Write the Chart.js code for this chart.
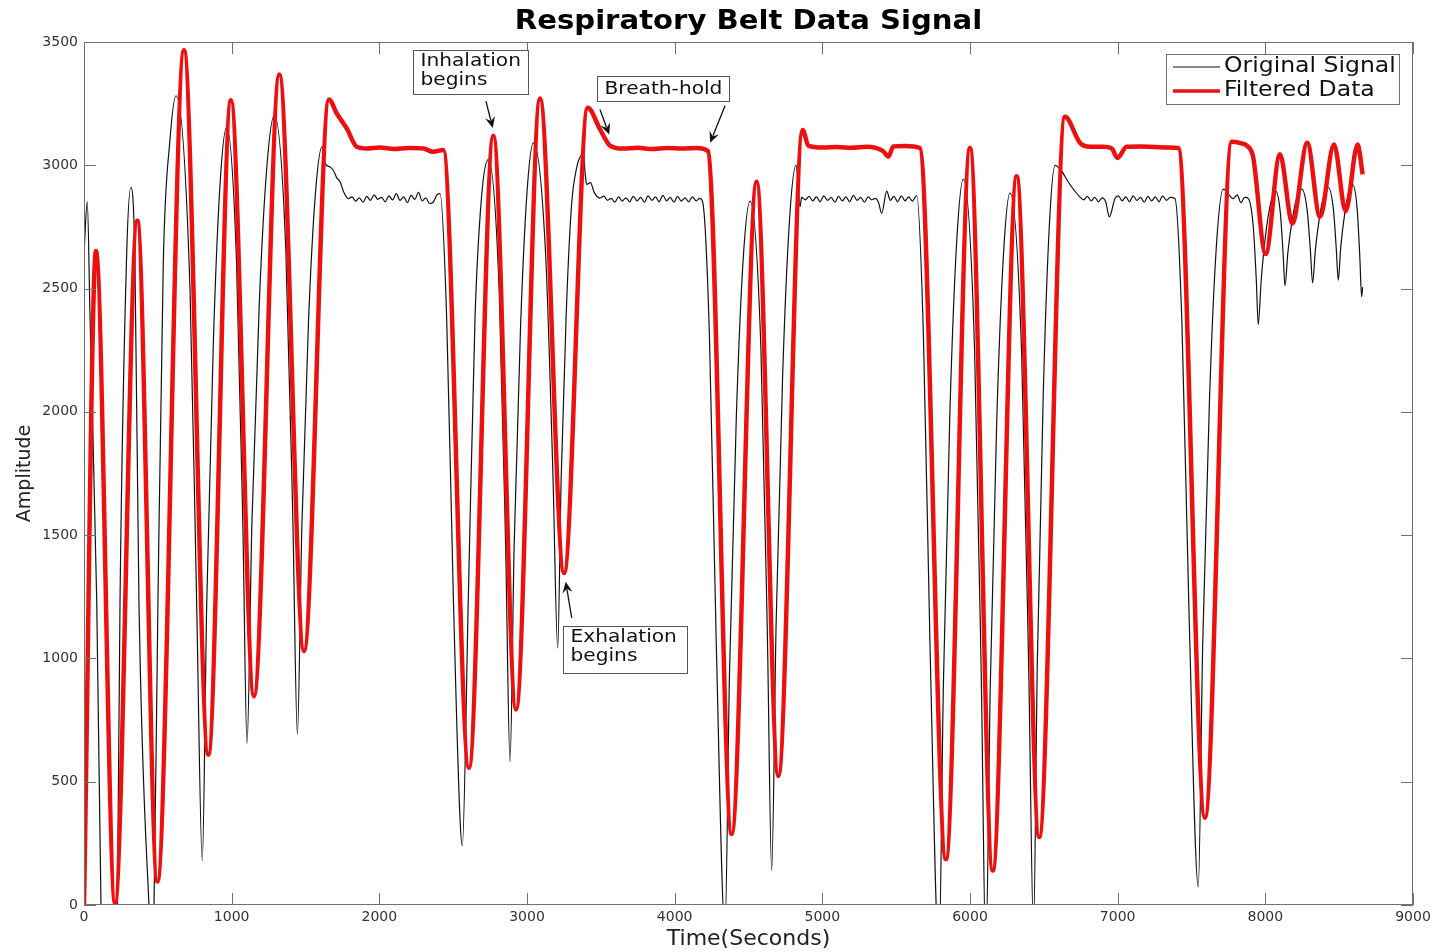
<!DOCTYPE html>
<html>
<head>
<meta charset="utf-8">
<title>Respiratory Belt Data Signal</title>
<script src="https://cdn.jsdelivr.net/npm/chart.js@4.4.1/dist/chart.umd.min.js"></script>
<style>
  html, body { margin: 0; padding: 0; background: #fff; }
  #wrap { width: 1438px; height: 952px; }
</style>
</head>
<body>
<div id="wrap"><canvas id="myChart" width="1438" height="952"></canvas></div>
<script>
// filtered belt signal (red), sampled at the turning points and along the holds
const filteredTime = [
  0, 81, 210, 361, 497, 677, 842, 995, 1151, 1323, 1490, 1659, 1711, 1779, 1847, 1914,
  2000, 2100, 2200, 2300, 2364, 2433, 2607, 2772, 2926, 3088, 3251, 3411, 3494, 3562,
  3650, 3750, 3850, 3950, 4050, 4150, 4226, 4386, 4555, 4702, 4867, 4905, 5000, 5100,
  5200, 5300, 5412, 5447, 5481, 5560, 5661, 5837, 6000, 6154, 6316, 6469, 6643, 6745,
  6813, 6900, 6960, 6998, 7061, 7150, 7250, 7350, 7411, 7591, 7772, 7830, 7885, 7917,
  8002, 8099, 8183, 8284, 8370, 8465, 8544, 8625, 8659
];
const filteredAmp = [
  0, 2652, 8, 2775, 95, 3467, 610, 3264, 847, 3368, 1030, 3267, 3211, 3150, 3075, 3068,
  3072, 3066, 3070, 3068, 3055, 3062, 556, 3120, 793, 3271, 1346, 3233, 3147, 3080,
  3068, 3071, 3066, 3070, 3068, 3070, 3057, 288, 2933, 523, 3143, 3080, 3072, 3074,
  3071, 3075, 3057, 3035, 3076, 3078, 3070, 186, 3070, 140, 2956, 276, 3197, 3091,
  3075, 3075, 3068, 3030, 3075, 3076, 3074, 3072, 3070, 354, 3095, 3090, 3075, 3035,
  2640, 3045, 2764, 3091, 2791, 3084, 2814, 3084, 2963
];

// raw belt signal (black); each row of times lines up with the same row of amplitudes
const originalTime = [
  0, 22, 41, 86, 115, 170, 226, 244, 289, 318, 345, 372, 440, 457, 474, 501, 537, 582, 623,
  718, 763, 801, 831, 876, 921, 966, 1033, 1076, 1104, 1137, 1187, 1239, 1289, 1367, 1414, 1445, 1475, 1520, 1567,
  1612, 1632, 1660, 1688, 1711, 1734, 1760, 1790,
  1815, 1840, 1865, 1890, 1915, 1940, 1965, 1990, 2015, 2040, 2065, 2090, 2115, 2140, 2165, 2190,
  2215, 2240, 2265, 2290, 2315, 2340, 2365, 2390, 2411,
  2456, 2501, 2546, 2562, 2603, 2648, 2693, 2738, 2812, 2856, 2885, 2913, 2956, 3000,
  3043, 3126, 3175, 3208, 3231, 3266, 3301, 3336, 3381, 3395, 3404, 3430, 3455, 3494,
  3520, 3545, 3570, 3595, 3620, 3645, 3670, 3695, 3720, 3745, 3770, 3795, 3820, 3845, 3870, 3895,
  3920, 3945, 3970, 3995, 4020, 4045, 4070, 4095, 4120, 4145, 4170, 4190,
  4235, 4281, 4341, 4371, 4417, 4464, 4510, 4584, 4628, 4657, 4687, 4731, 4777, 4822, 4849, 4860,
  4885, 4910, 4935, 4960, 4985, 5010, 5035, 5060, 5085, 5110, 5135, 5160, 5185, 5210, 5235, 5260,
  5285, 5310, 5335, 5360, 5380, 5402, 5436, 5460, 5485, 5510, 5535, 5560, 5585, 5610, 5639,
  5684, 5730, 5790, 5820, 5864, 5910, 5955, 6031, 6077, 6107, 6137, 6181, 6227, 6271,
  6350, 6398, 6430, 6456, 6496, 6537, 6576, 6610, 6677, 6745,
  6770, 6795, 6820, 6845, 6870, 6895, 6920, 6943, 6982, 7005, 7030, 7055, 7080, 7105, 7130, 7155,
  7180, 7205, 7230, 7255, 7280, 7305, 7330, 7355, 7388,
  7435, 7483, 7546, 7576, 7622, 7669, 7715, 7783, 7810, 7835, 7860, 7885,
  7918, 7939, 7952, 7973, 8005, 8038, 8070, 8101, 8120, 8133, 8153, 8184, 8215, 8246,
  8283, 8305, 8320, 8339, 8368, 8397, 8426, 8460, 8480, 8494, 8511, 8538, 8565, 8591, 8622, 8640, 8652, 8659
];
const originalAmp = [
  2640, 2853, 2381, 1237, 0, -1500, 0, 1237, 2640, 2911, 2607, 1237, 0, -150, 0, 1237, 2607, 3102, 3282,
  2496, 1221, 180, 1221, 2283, 2920, 3155, 2608, 1531, 655, 1547, 2439, 2999, 3203, 2651, 1571, 692, 1526, 2360, 2884,
  3075, 3008, 2995, 2980, 2950, 2933, 2890, 2865,
  2872, 2855, 2868, 2850, 2874, 2858, 2880, 2862, 2870, 2852, 2876, 2860, 2885, 2858, 2872, 2848,
  2878, 2862, 2890, 2856, 2868, 2845, 2850, 2880, 2885,
  2381, 1255, 354, 241, 1255, 2381, 2877, 3023, 2486, 1435, 580, 1459, 2338, 2890,
  3091, 2640, 1759, 1042, 1723, 2405, 2833, 2989, 3045, 2960, 2922, 2930, 2890, 2867,
  2875, 2858, 2866, 2850, 2872, 2855, 2868, 2852, 2874, 2856, 2870, 2850, 2876, 2858, 2872, 2852,
  2878, 2856, 2870, 2850, 2874, 2855, 2868, 2852, 2872, 2856, 2866, 2850,
  2319, 1080, -100, 934, 1969, 2619, 2855, 2258, 1090, 140, 1141, 2143, 2772, 3001, 2832, 2870,
  2860, 2874, 2856, 2872, 2852, 2876, 2858, 2870, 2850, 2874, 2856, 2872, 2852, 2878, 2858, 2870,
  2850, 2872, 2860, 2866, 2850, 2805, 2895, 2858, 2874, 2852, 2876, 2856, 2872, 2855, 2877,
  2323, 1031, -200, 900, 2001, 2692, 2944, 2252, 900, -200, 881, 1962, 2641, 2888,
  2231, 946, -100, 985, 2070, 2752, 3000, 2985, 2922, 2871,
  2860, 2874, 2856, 2870, 2852, 2868, 2850, 2791, 2865, 2876, 2856, 2872, 2852, 2876, 2858, 2870,
  2850, 2874, 2856, 2872, 2852, 2876, 2858, 2870, 2865,
  2362, 1190, 73, 1063, 2054, 2677, 2903, 2865, 2880, 2848, 2870, 2865,
  2753, 2533, 2354, 2543, 2733, 2852, 2895, 2811, 2646, 2512, 2649, 2786, 2872, 2903,
  2819, 2656, 2523, 2658, 2794, 2879, 2910, 2827, 2666, 2534, 2670, 2806, 2891, 2922, 2822, 2626, 2467, 2506
];

const seriesNames = ['Original Signal', 'Filtered Data'];
const chartTitle = 'Respiratory Belt Data Signal';
const xRange = [0, 9000];
const yRange = [0, 3500];

// callouts: box is [left, right, top, bottom] in data units, arrows are [fromX, fromY, toX, toY]
const notes = [
  { lines: ['Inhalation', 'begins'], box: [2228, 3007, 3467, 3289], arrows: [[2722, 3260, 2768, 3151]] },
  { lines: ['Breath-hold'], box: [3472, 4370, 3362, 3260], arrows: [[3494, 3226, 3557, 3125], [4341, 3241, 4240, 3091]] },
  { lines: ['Exhalation', 'begins'], box: [3242, 4086, 1131, 941], arrows: [[3303, 1164, 3262, 1311]] }
];

const RED = '#ec1010';
const AXIS = '#707070';
const TICK_LEN = 12;
const WIDE = 1.12;   // the figure text is set a little wide

Chart.defaults.font.family = 'DejaVu Sans';
Chart.defaults.color = '#333';

function toPoints(xs, ys) {
  return xs.map((x, i) => ({ x: x, y: ys[i] }));
}

function wideText(ctx, text, x, y, align) {
  ctx.save();
  ctx.translate(x, y);
  ctx.scale(WIDE, 1);
  ctx.textAlign = align;
  ctx.fillText(text, 0, 0);
  ctx.restore();
}

function drawArrow(ctx, x0, y0, x1, y1) {
  const a = Math.atan2(y1 - y0, x1 - x0);
  const c = Math.cos(a), s = Math.sin(a);
  const len = 11, half = 5;
  ctx.beginPath();
  ctx.moveTo(x0, y0);
  ctx.lineTo(x1 - len * 0.7 * c, y1 - len * 0.7 * s);
  ctx.stroke();
  ctx.beginPath();
  ctx.moveTo(x1, y1);
  ctx.lineTo(x1 - len * c + half * s, y1 - len * s - half * c);
  ctx.lineTo(x1 - len * 0.65 * c, y1 - len * 0.65 * s);
  ctx.lineTo(x1 - len * c - half * s, y1 - len * s + half * c);
  ctx.closePath();
  ctx.fill();
}

// box around the axes, inward ticks on all sides, title, callouts and the legend
const framePlugin = {
  id: 'frame',
  afterDatasetsDraw(chart) {
    const { ctx, chartArea: area, scales } = chart;
    const xs = scales.x, ys = scales.y;
    ctx.save();

    ctx.lineWidth = 1;
    ctx.strokeStyle = AXIS;
    ctx.beginPath();
    xs.ticks.forEach(t => {
      const px = Math.round(xs.getPixelForValue(t.value)) + 0.5;
      ctx.moveTo(px, area.bottom); ctx.lineTo(px, area.bottom - TICK_LEN);
      ctx.moveTo(px, area.top); ctx.lineTo(px, area.top + TICK_LEN);
    });
    ys.ticks.forEach(t => {
      const py = Math.round(ys.getPixelForValue(t.value)) + 0.5;
      ctx.moveTo(area.left, py); ctx.lineTo(area.left + TICK_LEN, py);
      ctx.moveTo(area.right, py); ctx.lineTo(area.right - TICK_LEN, py);
    });
    ctx.stroke();
    ctx.strokeRect(area.left + 0.5, area.top + 0.5, area.right - area.left - 1, area.bottom - area.top - 1);

    // title over the axes
    ctx.fillStyle = '#000';
    ctx.font = 'bold 26px "DejaVu Sans"';
    ctx.textBaseline = 'alphabetic';
    wideText(ctx, chartTitle, (area.left + area.right) / 2, 29, 'center');

    // callouts
    ctx.font = '18px "DejaVu Sans"';
    ctx.textBaseline = 'middle';
    notes.forEach(n => {
      const l = Math.round(xs.getPixelForValue(n.box[0])) + 0.5;
      const r = Math.round(xs.getPixelForValue(n.box[1])) + 0.5;
      const t = Math.round(ys.getPixelForValue(n.box[2])) + 0.5;
      const b = Math.round(ys.getPixelForValue(n.box[3])) + 0.5;
      ctx.fillStyle = '#fff';
      ctx.fillRect(l, t, r - l, b - t);
      ctx.strokeStyle = '#555';
      ctx.lineWidth = 1;
      ctx.strokeRect(l, t, r - l, b - t);
      ctx.fillStyle = '#111';
      if (n.lines.length === 1) {
        wideText(ctx, n.lines[0], l + 7, (t + b) / 2, 'left');
      } else {
        n.lines.forEach((line, i) => wideText(ctx, line, l + 7, t + 11 + i * 19, 'left'));
      }
      ctx.strokeStyle = '#111';
      ctx.lineWidth = 1.3;
      n.arrows.forEach(a => drawArrow(ctx,
        xs.getPixelForValue(a[0]), ys.getPixelForValue(a[1]),
        xs.getPixelForValue(a[2]), ys.getPixelForValue(a[3])));
    });

    // legend
    const w = 233, h = 50;
    const lx = area.right - 14 - w, ly = area.top + 12;
    ctx.fillStyle = '#fff';
    ctx.fillRect(lx, ly, w, h);
    ctx.strokeStyle = AXIS;
    ctx.lineWidth = 1;
    ctx.strokeRect(lx + 0.5, ly + 0.5, w, h);
    ctx.font = '21px "DejaVu Sans"';
    chart.data.datasets.forEach((ds, i) => {
      const yy = ly + 13 + i * 24;
      ctx.strokeStyle = ds.borderColor;
      ctx.lineWidth = Math.min(ds.borderWidth, 3.5);
      ctx.beginPath();
      ctx.moveTo(lx + 7, yy);
      ctx.lineTo(lx + 54, yy);
      ctx.stroke();
      ctx.fillStyle = '#111';
      wideText(ctx, ds.label, lx + 58, yy, 'left');
    });

    ctx.restore();
  }
};

new Chart(document.getElementById('myChart'), {
  type: 'line',
  data: {
    datasets: [
      {
        label: seriesNames[0],
        data: toPoints(originalTime, originalAmp),
        borderColor: '#111',
        borderWidth: 1.2,
        pointRadius: 0,
        cubicInterpolationMode: 'monotone',
        order: 1
      },
      {
        label: seriesNames[1],
        data: toPoints(filteredTime, filteredAmp),
        borderColor: RED,
        borderWidth: 4.5,
        pointRadius: 0,
        cubicInterpolationMode: 'monotone',
        order: 0
      }
    ]
  },
  options: {
    responsive: false,
    animation: false,
    layout: { padding: { top: 42, right: 25, bottom: 0, left: 0 } },
    plugins: {
      legend: { display: false },
      tooltip: { enabled: false },
      title: { display: false }
    },
    scales: {
      x: {
        type: 'linear',
        min: xRange[0],
        max: xRange[1],
        grid: { display: false, drawTicks: false },
        border: { display: false },
        ticks: { stepSize: 1000, padding: 4, maxRotation: 0, autoSkip: false, font: { size: 14 }, callback: v => String(v) },
        title: { display: true, text: 'Time(Seconds)', color: '#222', font: { size: 22 }, padding: { top: 2, bottom: 0 } },
        afterFit: s => { s.height = 47; }
      },
      y: {
        min: yRange[0],
        max: yRange[1],
        grid: { display: false, drawTicks: false },
        border: { display: false },
        ticks: { stepSize: 500, padding: 6, autoSkip: false, font: { size: 14 }, callback: v => String(v) },
        title: { display: true, text: 'Amplitude', color: '#222', font: { size: 19 }, padding: { top: 14, bottom: 0 } },
        afterFit: s => { s.width = 84; }
      }
    }
  },
  plugins: [framePlugin]
});
</script>
</body>
</html>
